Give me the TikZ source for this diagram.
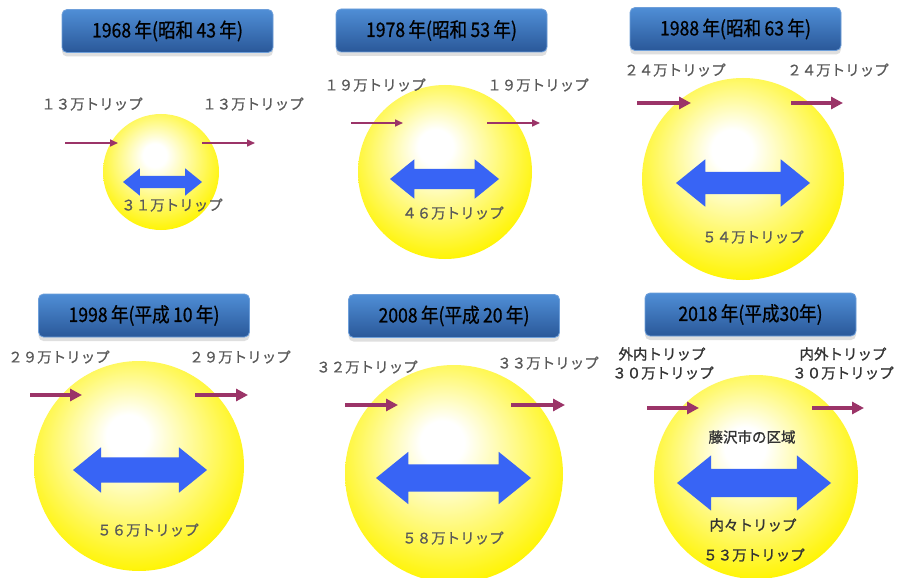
\documentclass[tikz,border=0pt]{standalone}
\usepackage{fontspec}
\setmainfont{Noto Sans CJK JP}
\newfontfamily\titlefont[FakeStretch=0.88,FakeBold=0.6]{Noto Sans CJK JP}
\newfontfamily\labelfont[FakeBold=0.7]{Noto Sans CJK JP}
\newfontfamily\strongfont[FakeBold=1.2]{Noto Sans CJK JP}
\usetikzlibrary{shapes.arrows,shadows,arrows.meta}
\definecolor{boxtop}{HTML}{4F8ED6}
\definecolor{boxbottom}{HTML}{2A5899}
\definecolor{boxedge}{HTML}{6E9FDA}
\definecolor{sunyellow}{HTML}{FFF400}
\definecolor{tripblue}{HTML}{3864F5}
\definecolor{flowpurple}{HTML}{9B3468}
\definecolor{labelgray}{HTML}{595959}
\pgfdeclareradialshading{sunglow}{\pgfpoint{-3bp}{8bp}}{%
  color(0bp)=(white); color(5bp)=(white);
  color(17bp)=(sunyellow!50!white); color(29bp)=(sunyellow);
  color(50bp)=(sunyellow)}
\tikzset{
  yearbox/.style={draw=boxedge, line width=0.8pt, rounded corners=5pt,
    top color=boxtop, bottom color=boxbottom, minimum width=211pt,
    minimum height=43pt, inner sep=0pt,
    font=\titlefont\fontsize{20}{20}\selectfont,
    drop shadow={shadow xshift=0pt, shadow yshift=-4pt, opacity=0.25}},
  area/.style={circle, shading=sunglow, inner sep=0pt, minimum size=#1},
  trips/.style={text=labelgray, font=\labelfont\fontsize{14.5}{15}\selectfont, inner sep=0pt},
  bigtrips/.style={text=black!80, font=\strongfont\fontsize{14.5}{15}\selectfont, inner sep=0pt},
  thinflow/.style={draw=flowpurple, line width=1.6pt, -{Triangle[length=8pt,width=7pt]}},
  thickflow/.style={draw=flowpurple, line width=3.5pt, -{Triangle[length=12pt,width=12pt]}},
  within/.style={double arrow, fill=tripblue, inner xsep=0pt, double arrow tip angle=78}
}
\begin{document}
\begin{tikzpicture}[x=1pt,y=-1pt]
  \useasboundingbox[fill=white] (0,0) rectangle (898,578);
  \clip (0,0) rectangle (898,578);
  % 1968
  \node[area=116pt] (area68) at (161,172) {};
  \node[yearbox] (year68) at (167.5,31) {1968\,年(昭和\,43\,年)};
  \node[trips] (in68) at (92,104) {１３万トリップ};
  \node[trips] (out68) at (253,104) {１３万トリップ};
  \coordinate (in68a) at (65,143); \coordinate (in68b) at (118,143);
  \coordinate (out68a) at (202,143); \coordinate (out68b) at (255,143);
  \draw[thinflow] (in68a) -- (in68b);
  \draw[thinflow] (out68a) -- (out68b);
  \node[within, minimum height=79pt, inner ysep=6pt, double arrow head extend=7.5pt] (both68) at (162.5,182) {};
  \node[trips] (inner68) at (172,205) {３１万トリップ};
  % 1978
  \node[area=174pt] (area78) at (445,172) {};
  \node[yearbox] (year78) at (441.5,30.5) {1978\,年(昭和\,53\,年)};
  \node[trips] (in78) at (375,85) {１９万トリップ};
  \node[trips] (out78) at (538,85) {１９万トリップ};
  \coordinate (in78a) at (351,123); \coordinate (in78b) at (403,123);
  \coordinate (out78a) at (487,123); \coordinate (out78b) at (540,123);
  \draw[thinflow] (in78a) -- (in78b);
  \draw[thinflow] (out78a) -- (out78b);
  \node[within, minimum height=109pt, inner ysep=10pt, double arrow head extend=9.5pt] (both78) at (444.5,179) {};
  \node[trips] (inner78) at (453,213) {４６万トリップ};
  % 1988
  \node[area=202pt] (area88) at (743,179) {};
  \node[yearbox] (year88) at (735.5,29) {1988\,年(昭和\,63\,年)};
  \node[trips] (in88) at (675,70) {２４万トリップ};
  \node[trips] (out88) at (838,70) {２４万トリップ};
  \coordinate (in88a) at (637,103); \coordinate (in88b) at (691,103);
  \coordinate (out88a) at (791,103); \coordinate (out88b) at (843,103);
  \draw[thickflow] (in88a) -- (in88b);
  \draw[thickflow] (out88a) -- (out88b);
  \node[within, minimum height=134pt, inner ysep=11pt, double arrow head extend=12.5pt] (both88) at (743,183) {};
  \node[trips] (inner88) at (753,237) {５４万トリップ};
  % 1998
  \node[area=210pt] (area98) at (139,466) {};
  \node[yearbox] (year98) at (144,315.5) {1998\,年(平成\,10\,年)};
  \node[trips] (in98) at (59,357) {２９万トリップ};
  \node[trips] (out98) at (240,357) {２９万トリップ};
  \coordinate (in98a) at (30,395); \coordinate (in98b) at (82,395);
  \coordinate (out98a) at (195,395); \coordinate (out98b) at (248,395);
  \draw[thickflow] (in98a) -- (in98b);
  \draw[thickflow] (out98a) -- (out98b);
  \node[within, minimum height=134pt, inner ysep=12.5pt, double arrow head extend=10pt] (both98) at (140,470) {};
  \node[trips] (inner98) at (148,530) {５６万トリップ};
  % 2008
  \node[area=218pt] (area08) at (454,474) {};
  \node[yearbox] (year08) at (454,316) {2008\,年(平成\,20\,年)};
  \node[trips] (in08) at (367,367) {３２万トリップ};
  \node[trips] (out08) at (548,363) {３３万トリップ};
  \coordinate (in08a) at (345,405); \coordinate (in08b) at (398,405);
  \coordinate (out08a) at (511,405); \coordinate (out08b) at (565,405);
  \draw[thickflow] (in08a) -- (in08b);
  \draw[thickflow] (out08a) -- (out08b);
  \node[within, minimum height=155pt, inner ysep=13.5pt, double arrow head extend=12.5pt] (both08) at (453.5,478) {};
  \node[trips] (inner08) at (453,538) {５８万トリップ};
  % 2018
  \node[area=204pt] (area18) at (756,477) {};
  \node[yearbox] (year18) at (750.5,314.5) {2018\,年(平成30年)};
  \node[bigtrips] (in18) at (662,354) {外内トリップ};
  \node[bigtrips] (in18n) at (663,373) {３０万トリップ};
  \node[bigtrips] (out18) at (843,354) {内外トリップ};
  \node[bigtrips] (out18n) at (843,373) {３０万トリップ};
  \coordinate (in18a) at (647,408); \coordinate (in18b) at (699,408);
  \coordinate (out18a) at (812,408); \coordinate (out18b) at (864,408);
  \draw[thickflow] (in18a) -- (in18b);
  \draw[thickflow] (out18a) -- (out18b);
  \node[bigtrips] (city18) at (752,437) {藤沢市の区域};
  \node[within, minimum height=154pt, inner ysep=14pt, double arrow head extend=13.5pt] (both18) at (754,483) {};
  \node[bigtrips] (inner18) at (753,525) {内々トリップ};
  \node[bigtrips] (inner18n) at (754,555) {５３万トリップ};
\end{tikzpicture}
\end{document}
